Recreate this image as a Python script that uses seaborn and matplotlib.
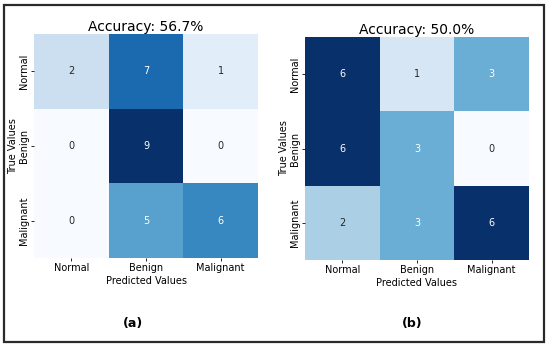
import numpy as np
import pandas as pd
import matplotlib
matplotlib.use("Agg")
import matplotlib.pyplot as plt
import seaborn as sns
from matplotlib.patches import Rectangle

classes = ["Normal", "Benign", "Malignant"]
cm_a = [[2, 7, 1],
        [0, 9, 0],
        [0, 5, 6]]
cm_b = [[6, 1, 3],
        [6, 3, 0],
        [2, 3, 6]]
titles = ["Accuracy: 56.7%", "Accuracy: 50.0%"]
panel_labels = ["(a)", "(b)"]

plt.rcParams['font.family'] = ['DejaVu Sans']
fig = plt.figure(figsize=(5.5, 3.48), dpi=100)
W, H = 550, 348

def ax_at(x0, y0, x1, y1):
    return fig.add_axes([x0 / W, 1 - y1 / H, (x1 - x0) / W, (y1 - y0) / H])

axes = [ax_at(34, 34, 258, 258), ax_at(305, 37, 529, 260)]
for ax, cm, title in zip(axes, [cm_a, cm_b], titles):
    df = pd.DataFrame(cm, index=classes, columns=classes)
    sns.heatmap(df, annot=True, fmt="d", cmap="Blues", cbar=False, ax=ax,
                annot_kws={"fontsize": 7})
    ax.set_title(title, fontsize=10, pad=2)
    ax.set_xlabel("Predicted Values", fontsize=7, labelpad=2)
    ax.set_ylabel("True Values", fontsize=7, labelpad=1)
    ax.tick_params(axis="both", labelsize=7, length=2, width=0.6, pad=1.5)
    ax.set_yticklabels(classes, rotation=90, va="center")
    ax.set_xticklabels(classes, rotation=0)

fig.text(133 / W, 1 - 323 / H, panel_labels[0], fontsize=9, fontweight="bold",
         ha="center", va="center")
fig.text(412 / W, 1 - 323 / H, panel_labels[1], fontsize=9, fontweight="bold",
         ha="center", va="center")

fig.patches.append(Rectangle((4 / W, 1 - 342 / H), 540 / W, 337 / H,
                             transform=fig.transFigure, fill=False,
                             edgecolor="#2a2a2a", linewidth=1.6))

fig.savefig("out.png", dpi=100)
